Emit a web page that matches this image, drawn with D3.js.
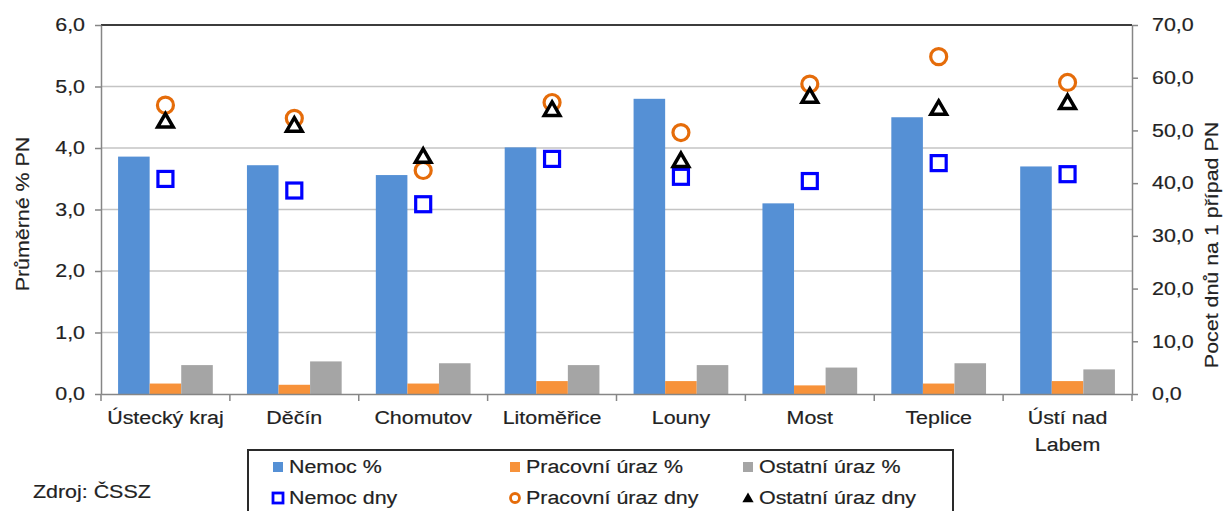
<!DOCTYPE html>
<html><head><meta charset="utf-8">
<script src="https://cdn.jsdelivr.net/npm/d3@7"></script>
<style>
html,body{margin:0;padding:0;background:#fff;}
svg{display:block;font-family:"Liberation Sans",Arial,sans-serif;}
</style></head>
<body><svg id="c" width="1231" height="511"></svg>
<script>
const categories = ["Ústecký kraj","Děčín","Chomutov","Litoměřice","Louny","Most","Teplice","Ústí nad Labem"];
const nemocPct    = [3.86,3.72,3.56,4.01,4.80,3.10,4.50,3.70];
const pracovniPct = [0.17,0.15,0.17,0.21,0.21,0.14,0.17,0.21];
const ostatniPct  = [0.47,0.53,0.50,0.47,0.47,0.43,0.50,0.40];
const nemocDny    = [40.8,38.6,36.0,44.6,41.2,40.4,43.8,41.7];
const pracovniDny = [54.8,52.3,42.4,55.3,49.6,58.8,64.0,59.1];
const ostatniDny  = [51.5,50.7,44.8,53.7,44.0,56.2,53.9,55.0];
const leftTicks  = [0,1,2,3,4,5,6];
const rightTicks = [0,10,20,30,40,50,60,70];
const barSeries = ["Nemoc %","Pracovní úraz %","Ostatní úraz %"];
const barColors = ["#5590d5","#f7923a","#a5a5a5"];

const svg = d3.select("#c");
const L = 101, R = 1132, T = 25, B = 394;
const SX = 1.19;
const fmt = d => d3.format(".1f")(d).replace(".", ",");

const x = d3.scaleBand().domain(categories).range([L, R]).padding(0);
const bw = x.bandwidth();
const gw = bw * 0.735;
const x1 = d3.scaleBand().domain(barSeries).range([(bw-gw)/2, (bw+gw)/2]).padding(0);
const yL = d3.scaleLinear().domain([0,6]).range([B, T]);
const yR = d3.scaleLinear().domain([0,70]).range([B, T]);

const textStyle = sel => sel.attr("fill", "#222").attr("stroke", "#222").attr("stroke-width", 0.18)
  .style("font-size", "18px");
function stretch(sel, extra) {
  sel.each(function(){
    const t = d3.select(this);
    const tx = +t.attr("x") || 0, ty = +t.attr("y") || 0;
    t.attr("x", null).attr("y", null)
     .attr("transform", `translate(${tx},${ty})${extra || ""} scale(${SX},1)`);
  });
}

// gridlines
svg.append("g").selectAll("line").data(leftTicks.filter(d => d > 0 && d < 6)).join("line")
  .attr("x1", L).attr("x2", R).attr("y1", d => yL(d)).attr("y2", d => yL(d))
  .attr("stroke", "#c4c4c4").attr("stroke-width", 1.5);
svg.append("line").attr("x1", L).attr("x2", R).attr("y1", yL(6)).attr("y2", yL(6))
  .attr("stroke", "#3c3c3c").attr("stroke-width", 2);

// bars
const barData = [];
categories.forEach((c,i) => {
  [nemocPct[i], pracovniPct[i], ostatniPct[i]].forEach((v,j) => barData.push({c, s: barSeries[j], v, col: barColors[j]}));
});
svg.append("g").selectAll("rect").data(barData).join("rect")
  .attr("x", d => x(d.c) + x1(d.s)).attr("width", x1.bandwidth())
  .attr("y", d => yL(d.v)).attr("height", d => B - yL(d.v))
  .attr("fill", d => d.col);

// axes
const gL = svg.append("g").attr("transform", `translate(${L},0)`)
  .call(d3.axisLeft(yL).tickValues(leftTicks).tickFormat(fmt).tickSize(6).tickSizeOuter(0).tickPadding(10));
gL.select(".domain").attr("stroke", "#868686").attr("stroke-width", 1.5);
gL.selectAll(".tick line").attr("stroke", "#868686").attr("stroke-width", 1.5);
gL.selectAll(".tick text").call(textStyle).call(stretch);

const gR = svg.append("g").attr("transform", `translate(${R},0)`)
  .call(d3.axisRight(yR).tickValues(rightTicks).tickFormat(fmt).tickSize(6).tickSizeOuter(0).tickPadding(14));
gR.select(".domain").attr("stroke", "#868686").attr("stroke-width", 1.5);
gR.selectAll(".tick line").attr("stroke", "#868686").attr("stroke-width", 1.5);
gR.selectAll(".tick text").call(textStyle).call(stretch);

const gB = svg.append("g").attr("transform", `translate(0,${B})`)
  .call(d3.axisBottom(x).tickSize(0).tickPadding(17));
gB.select(".domain").attr("stroke", "#868686").attr("stroke-width", 1.5);
gB.selectAll(".tick text").call(textStyle);
svg.append("g").selectAll("line").data(d3.range(categories.length + 1)).join("line")
  .attr("x1", i => L + i*bw).attr("x2", i => L + i*bw).attr("y1", B).attr("y2", B + 7)
  .attr("stroke", "#868686").attr("stroke-width", 1.5);

gB.selectAll(".tick text").each(function(d){
  const t = d3.select(this);
  if (this.getComputedTextLength() * SX > bw - 4) {
    const words = d.split(" ");
    const line1 = words.slice(0, -1).join(" "), line2 = words[words.length-1];
    const dy = t.attr("dy");
    t.text(null);
    t.append("tspan").attr("x", 0).attr("dy", dy).text(line1);
    t.append("tspan").attr("x", 0).attr("dy", "1.5em").text(line2);
  }
}).call(stretch);

// markers
const cx = c => x(c) + bw/2;
svg.append("g").selectAll("rect").data(categories).join("rect")
  .attr("x", (c) => cx(c) - 7.5).attr("y", (c,i) => yR(nemocDny[i]) - 7.5)
  .attr("width", 15).attr("height", 15)
  .attr("fill", "#fff").attr("stroke", "#0000ff").attr("stroke-width", 3.2);
svg.append("g").selectAll("circle").data(categories).join("circle")
  .attr("cx", c => cx(c)).attr("cy", (c,i) => yR(pracovniDny[i])).attr("r", 8)
  .attr("fill", "#fff").attr("stroke", "#e56c0a").attr("stroke-width", 3.2);
const tri = d3.symbol(d3.symbolTriangle, 105);
svg.append("g").selectAll("path").data(categories).join("path")
  .attr("d", tri).attr("transform", (c,i) => `translate(${cx(c)},${yR(ostatniDny[i])})`)
  .attr("fill", "#fff").attr("stroke", "#000").attr("stroke-width", 3.5).attr("stroke-linejoin", "miter");

// axis titles
svg.append("text").attr("transform", `translate(29,214) rotate(-90) scale(${SX},1)`).attr("text-anchor", "middle")
  .call(textStyle).text("Průměrné % PN");
svg.append("text").attr("transform", `translate(1218,245) rotate(-90) scale(${SX},1)`).attr("text-anchor", "middle")
  .call(textStyle).text("Pocet dnů na 1 případ PN");

// source
svg.append("text").attr("x", 33).attr("y", 498).call(textStyle).text("Zdroj: ČSSZ").call(stretch);

// legend
const lg = svg.append("g");
lg.append("rect").attr("x", 248).attr("y", 450).attr("width", 705).attr("height", 80)
  .attr("fill", "#fff").attr("stroke", "#2a2a2a").attr("stroke-width", 2);
const legendItems = [
  {label: "Nemoc %", type: "bar", color: barColors[0], col: 0, row: 0},
  {label: "Pracovní úraz %", type: "bar", color: barColors[1], col: 1, row: 0},
  {label: "Ostatní úraz %", type: "bar", color: barColors[2], col: 2, row: 0},
  {label: "Nemoc dny", type: "sq", col: 0, row: 1},
  {label: "Pracovní úraz dny", type: "ci", col: 1, row: 1},
  {label: "Ostatní úraz dny", type: "tr", col: 2, row: 1}
];
const colX = [278, 515, 748], rowY = [467, 498];
legendItems.forEach(it => {
  const sx = colX[it.col], sy = rowY[it.row];
  if (it.type === "bar") lg.append("rect").attr("x", sx-5).attr("y", sy-5).attr("width", 10).attr("height", 10).attr("fill", it.color);
  if (it.type === "sq") lg.append("rect").attr("x", sx-5).attr("y", sy-5).attr("width", 10).attr("height", 10).attr("fill", "#fff").attr("stroke", "#0000ff").attr("stroke-width", 2.8);
  if (it.type === "ci") lg.append("circle").attr("cx", sx).attr("cy", sy).attr("r", 4.5).attr("fill", "#fff").attr("stroke", "#e56c0a").attr("stroke-width", 2.8);
  if (it.type === "tr") lg.append("path").attr("d", d3.symbol(d3.symbolTriangle, 55)).attr("transform", `translate(${sx},${sy+1})`).attr("fill", "#000");
  lg.append("text").attr("x", sx + 11).attr("y", sy).attr("dy", "0.35em")
    .call(textStyle).text(it.label).call(stretch);
});
</script>
</body></html>
